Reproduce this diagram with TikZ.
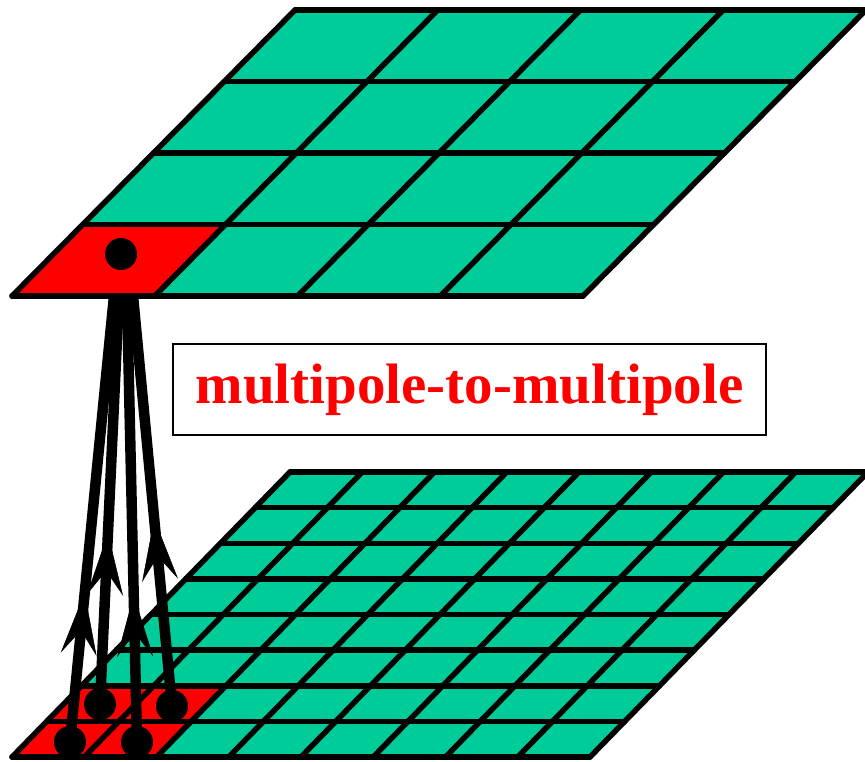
\documentclass[tikz,border=0pt]{standalone}
\usepackage{fontspec}
\setmainfont{Liberation Serif}
\usetikzlibrary{arrows.meta,decorations.markings}
\definecolor{CellGreen}{RGB}{0,204,153}
\definecolor{CellRed}{RGB}{255,0,0}

\begin{document}
\begin{tikzpicture}[
  x={(1pt,0pt)},y={(0pt,-1pt)},
  gridline/.style={line width=5.5pt,line join=round,line cap=round},
  dot/.style={circle,fill=black,minimum size=32pt,inner sep=0pt},
  link/.style={line width=10.5pt,shorten <=-3pt},
  tipat/.style={postaction={decorate},decoration={markings,mark=at position #1 with {\arrow{Stealth[length=62pt,width=36pt,inset=24pt,line width=0.5pt]}}}},
  titlebox/.style={rectangle,draw,line width=2.5pt,minimum width=593pt,minimum height=91pt,inner sep=0pt,text=CellRed,font=\bfseries\fontsize{57}{60}\selectfont}
]
  \useasboundingbox (0,0) rectangle (865,761);
  % lower level: 8 x 8 cells
  \begin{scope}[shift={(12,757)},x={(72.25pt,0pt)},y={(34.75pt,35.625pt)}]
    \fill[CellGreen] (0,0) -- (8,0) -- (8,8) -- (0,8) -- cycle;
    \fill[CellRed] (0,0) -- (2,0) -- (2,2) -- (0,2) -- cycle;
    \foreach \i in {0,...,8} {
      \draw[gridline] (0,\i) -- (8,\i);
      \draw[gridline] (\i,0) -- (\i,8);
    }
  \end{scope}
  \node[dot] (botA) at (70,742) {};
  \node[dot] (botB) at (137,742) {};
  \node[dot] (midA) at (100,704) {};
  \node[dot] (midB) at (172,706) {};
  \coordinate (endA) at (114,296);
  \coordinate (endB) at (127,296);
  \coordinate (endC) at (119,296);
  \coordinate (endD) at (133,296);
  \draw[link,tipat=0.31] (botA) -- (endA);
  \draw[link,tipat=0.305] (botB) -- (endB);
  \draw[link,tipat=0.395] (midA) -- (endC);
  \draw[link,tipat=0.435] (midB) -- (endD);
  % upper level: 4 x 4 cells
  \begin{scope}[shift={(12,296)},x={(142.75pt,0pt)},y={(70.75pt,71.5pt)}]
    \fill[CellGreen] (0,0) -- (4,0) -- (4,4) -- (0,4) -- cycle;
    \fill[CellRed] (0,0) -- (1,0) -- (1,1) -- (0,1) -- cycle;
    \foreach \i in {0,...,4} {
      \draw[gridline] (0,\i) -- (4,\i);
      \draw[gridline] (\i,0) -- (\i,4);
    }
  \end{scope}
  \node[dot] (topdot) at (121,254) {};
  \node[titlebox] (title) at (469.5,389.5) {multipole-to-multipole};
\end{tikzpicture}
\end{document}
